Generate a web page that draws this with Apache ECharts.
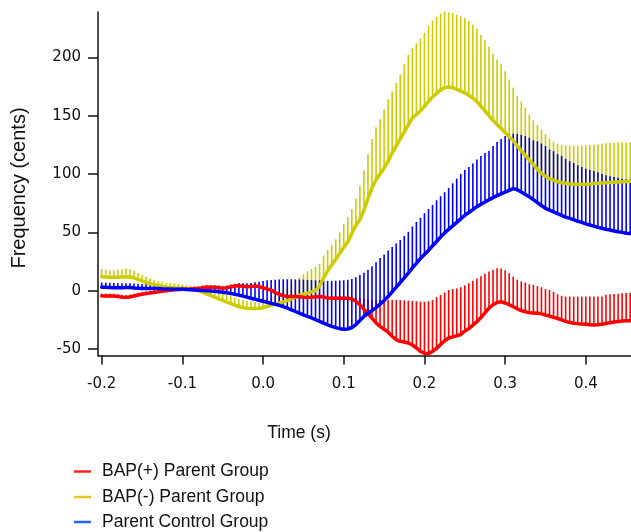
<!DOCTYPE html>
<html>
<head>
<meta charset="utf-8">
<script src="https://cdn.jsdelivr.net/npm/echarts@6/dist/echarts.min.js"></script>
<style>
  html, body { margin: 0; padding: 0; background: #fff; }
  #chart { width: 631px; height: 532px; }
</style>
</head>
<body>
<div id="chart"></div>
<script>
// Sample timing: one sample every 5 ms from -0.2 s
const T0 = -0.2;
const DT = 0.005;

// Mean pitch response (cents) per group
const bapPlusMean = [
  -4.5, -4.5, -4.5, -4.5, -5, -5.5, -5.7, -5.3, -4.5, -3.7,
  -3, -2.5, -2, -1.5, -1, -0.5, 0, 0.4, 0.8, 1,
  1.2, 1.3, 1.4, 1.6, 1.8, 2.5, 3, 3, 2.9, 2.5,
  2, 2.5, 3.3, 4, 4.3, 3.8, 3.4, 3.7, 4, 3.5,
  2.5, 1.5, 0.5, -1.5, -3.2, -4.3, -5, -5, -5, -5.2,
  -5.5, -5.7, -5.5, -5.2, -5, -5.5, -6.2, -6.5, -6.5, -6.5,
  -6.5, -6.5, -7, -9, -12, -16, -19.5, -23.5, -27.5, -30.5,
  -33, -35.5, -39, -42, -43.3, -44, -44.8, -46.5, -49, -52,
  -53.5, -53.8, -52, -49.5, -46, -43, -40.5, -39.5, -38.7, -37.5,
  -34.5, -32.5, -29.5, -26.5, -23, -19, -15, -12, -10, -9.4,
  -10.5, -12, -13.7, -15.5, -17, -18, -18.8, -19, -19.2, -19.8,
  -20.8, -21.7, -22.8, -23.8, -25, -26.3, -27.3, -27.8, -28.2, -28.5,
  -28.8, -29.2, -29.4, -29.2, -28.7, -28, -27.4, -26.8, -26.3, -26,
  -25.8, -25.7
];
const bapMinusMean = [
  12, 11.8, 11.5, 11.5, 11.5, 11.8, 12, 11.8, 11, 9.8,
  8.5, 7, 6, 5.2, 4.5, 3.8, 3.3, 2.8, 2.5, 2.2,
  2, 1.6, 1.2, 0.6, 0, -1.3, -2.8, -4, -5.5, -7,
  -8.3, -9.8, -11, -12.3, -13.5, -14.5, -15, -15.2, -15.2, -15,
  -14.5, -13.5, -12.5, -11.5, -10.5, -9.5, -8.5, -7, -5.5, -4,
  -3, -2, -1, 0, 4, 11, 17, 22, 27, 32,
  37, 42, 49, 56, 61, 69, 79, 88, 95, 100,
  105, 111, 118, 124, 130, 136, 142, 148, 151, 154,
  158, 162, 166, 169, 172, 174, 174.5, 174, 172.5, 171,
  169.5, 167.5, 165, 162, 158, 154, 150, 146, 142.5, 139,
  135.5, 132, 128.5, 124, 120, 116, 112, 108, 104, 100.5,
  98, 96, 94.5, 93.5, 92.5, 92, 91.5, 91.3, 91.2, 91.2,
  91.3, 91.5, 91.8, 92, 92.2, 92.5, 92.8, 93, 93.2, 93.4,
  93.5, 93.6
];
const controlMean = [
  3, 3, 2.8, 2.6, 2.5, 2.6, 2.8, 2.7, 2.4, 2.2,
  2, 2, 2, 2, 1.8, 1.6, 1.5, 1.4, 1.3, 1.2,
  1.2, 1, 0.8, 0.6, 0.4, 0.2, 0, -0.3, -0.5, -0.8,
  -1.3, -1.8, -2.3, -3, -3.8, -4.6, -5.5, -6.4, -7.3, -8.2,
  -9, -9.9, -10.8, -11.6, -12.5, -13.7, -15, -16.4, -17.8, -19.2,
  -20.6, -22, -23.3, -24.7, -26.2, -27.7, -29.2, -30.5, -31.6, -32.5,
  -33, -32.8, -31.5, -29, -25.5, -22, -19.3, -17, -14.5, -11.5,
  -8.5, -5, -1, 3, 7, 11, 15, 19.5, 23.5, 27.5,
  31, 34.5, 38.5, 42, 46, 49.5, 52.5, 55.5, 58.5, 61.5,
  64.5, 67, 69.5, 72, 74, 76, 78, 79.8, 81.5, 83,
  84.5, 86, 87.5, 86.5, 84.5, 82.5, 80.5, 78, 75.5, 73,
  70.5, 69, 67.5, 66, 64.5, 63, 62, 61, 59.5, 58.5,
  57.3, 56.3, 55.3, 54.3, 53.5, 52.7, 52, 51.2, 50.5, 50,
  49.3, 49
];

// Upper end of each error bar (mean + SE), cents
const bapPlusUpper = [
  -2.5, -2.5, -2.5, -2.5, -3, -3.5, -3.7, -3.3, -2.5, -1.7,
  -1, -0.5, 0, 0.5, 1, 1.5, 2, 2.4, 2.8, 3,
  3.2, 3.3, 3.4, 3.6, 3.8, 4.5, 5, 5, 4.9, 4.5,
  4, 4.5, 5.3, 6, 6.3, 5.8, 5.4, 5.7, 6, 5.5,
  4.5, 3.5, 2.5, 0.5, -1.2, -2.3, -3, -3, -3, -3.2,
  -3.5, -3.7, -3.5, -3.2, -3, -3.5, -4.2, -4.5, -4.5, -4.5,
  -4.5, -4.5, -5, -6, -6.5, -7, -7.5, -8, -8, -8,
  -8, -8, -8, -8, -8, -8.3, -8.5, -8.8, -9, -9.4,
  -9.4, -9, -8, -5.5, -3.7, -1.5, 0.6, 1.3, 2, 3,
  4.5, 6.3, 8.5, 10.5, 12.5, 14.5, 16.5, 18, 19.2, 19,
  17.5, 15, 12, 9.5, 8, 7, 5.5, 5, 4, 3,
  1.5, 0.6, -1, -3, -4.3, -5, -5, -5, -5, -5,
  -5, -5, -5, -5, -5, -3.5, -3, -2.8, -2.5, -2.2,
  -2, -1.7
];
const bapMinusUpper = [
  18.5, 18, 17.5, 17.5, 18, 18.5, 19, 18.5, 17, 15,
  13.5, 12, 10.5, 9, 8, 7.3, 6.9, 6.6, 6.3, 5.9,
  5.5, 4.7, 4, 3, 2, 1.2, 0.5, -0.5, -1.2, -1.6,
  -2.6, -3.2, -4, -5.5, -7, -8, -8.8, -9.3, -9.7, -10,
  -9.5, -8, -6, -4.5, -3, 0, 3.5, 6.5, 9, 11.5,
  14, 16.5, 18.5, 20.5, 23, 30, 35, 39, 44, 50,
  57, 63, 70, 79, 90, 103, 117, 130, 140, 147,
  155, 164, 171, 178, 185, 194, 202, 208, 212, 216,
  221, 227, 231.5, 235, 237.5, 239, 238.5, 238, 236.5, 235,
  233.5, 231, 228, 224.5, 219, 214.5, 209, 203, 198, 194,
  188, 181, 174, 167, 162, 157, 151, 146, 142, 138,
  134, 130, 127.5, 126, 125, 124.5, 124.3, 124.3, 124.3, 124.3,
  124.5, 124.8, 125, 125.5, 126, 126.3, 126.5, 126.8, 127, 127,
  127, 127
];
const controlUpper = [
  7, 7, 6.8, 6.6, 6.5, 6.5, 6.4, 6.3, 6.2, 6,
  5.8, 5.7, 5, 4.3, 3.8, 3.5, 3.4, 3.4, 3.4, 3.4,
  3.4, 3, 2.6, 2.2, 2, 2, 2, 2, 2, 2.3,
  2.8, 3.3, 4, 5, 6.3, 6.3, 6.3, 6.6, 7.2, 7.7,
  8.3, 9, 9.2, 9.5, 9.7, 9.8, 9.8, 9.8, 9.7, 9.6,
  9.5, 9.3, 9.2, 9, 8.8, 8.6, 8.5, 8.5, 8.6, 8.8,
  9, 9.3, 10, 11.5, 13.5, 15.5, 18, 21, 24.5, 28,
  31, 34.5, 37.5, 40.5, 43.5, 47, 50.5, 55, 59, 62.5,
  66.5, 70, 73.5, 77.5, 81, 84.5, 88, 92, 96, 100,
  103.5, 106, 109, 112.5, 115.5, 118, 120, 124, 127.5, 130,
  132.5, 134, 134.5, 134.3, 133.5, 132.5, 131, 129, 128, 126,
  124, 121, 119.5, 117, 115.5, 113, 111, 109.5, 107.5, 106,
  104.5, 103.5, 102.5, 101.5, 100, 99, 98, 97.5, 96.8, 96,
  95.5, 95
];

// Axis tick positions
const xTicks = [-0.2, -0.1, 0.0, 0.1, 0.2, 0.3, 0.4];
const yTicks = [-50, 0, 50, 100, 150, 200];

const groupNames = ['BAP(+) Parent Group', 'BAP(-) Parent Group', 'Parent Control Group'];

function rows(mean, upper) {
  return mean.map((m, i) => [+(T0 + i * DT).toFixed(3), m, upper[i]]);
}

// Vertical SE bars drawn from the mean up to mean + SE
function errorBars(name, data, color) {
  return {
    name: name,
    type: 'custom',
    data: data,
    encode: { x: 0, y: [1, 2] },
    silent: true,
    renderItem: function (params, api) {
      const a = api.coord([api.value(0), api.value(1)]);
      const b = api.coord([api.value(0), api.value(2)]);
      return {
        type: 'line',
        shape: { x1: a[0], y1: a[1], x2: b[0], y2: b[1] },
        style: { stroke: color, lineWidth: 1.6 }
      };
    }
  };
}

function meanLine(name, data, color) {
  return {
    name: name,
    type: 'line',
    data: data.map(r => [r[0], r[1]]),
    showSymbol: false,
    symbol: 'none',
    silent: true,
    lineStyle: { color: color, width: 3.5, cap: 'round', join: 'round' }
  };
}

const plusRows = rows(bapPlusMean, bapPlusUpper);
const minusRows = rows(bapMinusMean, bapMinusUpper);
const ctrlRows = rows(controlMean, controlUpper);

const YELLOW = '#cccc00';
const RED = '#ff0000';
const BLUE = '#0000ff';

const chart = echarts.init(document.getElementById('chart'), null, { renderer: 'canvas' });

const tickFont = { fontFamily: 'DejaVu Sans', fontSize: 15, color: '#111' };
const titleFont = 'Liberation Sans, Arial, sans-serif';

const legendY = [471.5, 497, 522];
const legendColors = ['#ff2222', '#e4c41e', '#2864e4'];
const legendGraphics = [];
groupNames.forEach((n, i) => {
  legendGraphics.push({
    type: 'line',
    shape: { x1: 74, y1: legendY[i], x2: 91, y2: legendY[i] },
    style: { stroke: legendColors[i], lineWidth: 2.5 }
  });
  legendGraphics.push({
    type: 'text',
    x: 102, y: legendY[i],
    style: { text: n, fill: '#111', font: '17.5px ' + titleFont, textVerticalAlign: 'middle' }
  });
});

chart.setOption({
  animation: false,
  backgroundColor: '#fff',
  grid: { left: 98, right: 0, top: 12, bottom: 176.5, containLabel: false },
  xAxis: {
    type: 'value',
    min: -0.2046,
    max: 0.456,
    axisLine: { show: true, onZero: false, lineStyle: { color: '#111', width: 1.5 } },
    axisTick: { show: true, length: 9, customValues: xTicks, lineStyle: { color: '#111', width: 1.5 } },
    axisLabel: {
      customValues: xTicks, margin: 21, ...tickFont,
      formatter: v => v.toFixed(1)
    },
    splitLine: { show: false }
  },
  yAxis: {
    type: 'value',
    min: -55.5,
    max: 238.8,
    axisLine: { show: true, onZero: false, lineStyle: { color: '#111', width: 1.5 } },
    axisTick: { show: true, length: 10, customValues: yTicks, lineStyle: { color: '#111', width: 1.5 } },
    axisLabel: { customValues: yTicks, margin: 17, ...tickFont },
    splitLine: { show: false }
  },
  graphic: [
    {
      type: 'text',
      x: 299, y: 433,
      style: { text: 'Time (s)', fill: '#111', font: '17.5px ' + titleFont, textAlign: 'center', textVerticalAlign: 'middle' }
    },
    {
      type: 'text',
      x: 19, y: 188,
      rotation: Math.PI / 2,
      style: { text: 'Frequency (cents)', fill: '#111', font: '20px ' + titleFont, textAlign: 'center', textVerticalAlign: 'middle' }
    },
    ...legendGraphics
  ],
  series: [
    errorBars(groupNames[1] + ' SE', minusRows, YELLOW),
    meanLine(groupNames[1], minusRows, YELLOW),
    errorBars(groupNames[0] + ' SE', plusRows, RED),
    meanLine(groupNames[0], plusRows, RED),
    errorBars(groupNames[2] + ' SE', ctrlRows, BLUE),
    meanLine(groupNames[2], ctrlRows, BLUE)
  ]
});
</script>
</body>
</html>
